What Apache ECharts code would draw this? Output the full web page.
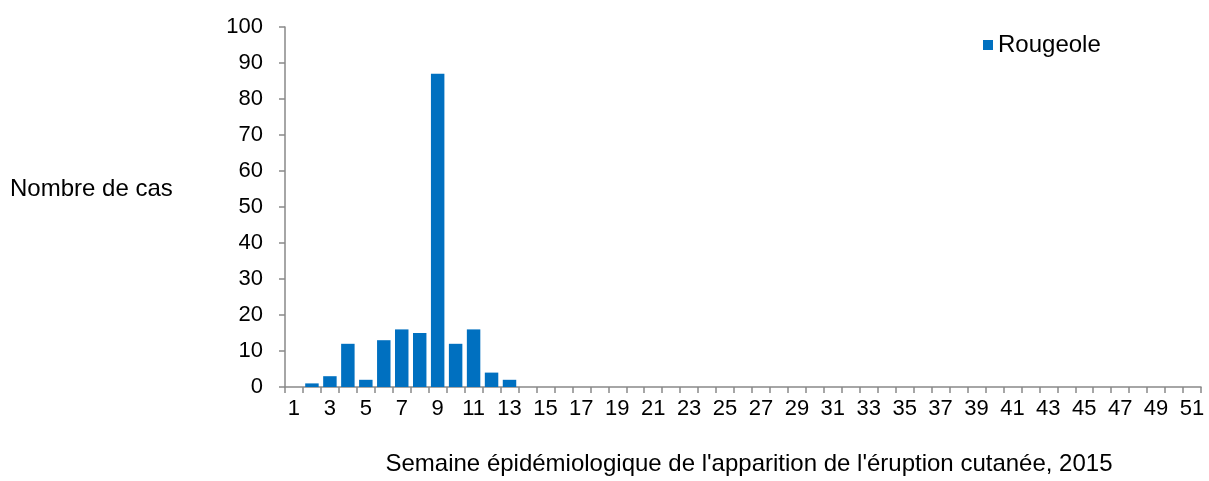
<!DOCTYPE html>
<html><head><meta charset="utf-8">
<script src="https://cdn.jsdelivr.net/npm/echarts@6/dist/echarts.min.js"></script>
<style>html,body{margin:0;padding:0;background:#fff}#c{width:1209px;height:481px}</style>
</head><body><div id="c"></div>
<script>
const weeks = [];
for (let i = 1; i <= 51; i++) weeks.push(String(i));
const rougeole = [null,1,3,12,2,13,16,15,87,12,16,4,2];
const yTicks = [0,10,20,30,40,50,60,70,80,90,100];
const seriesName = 'Rougeole';
const yTitle = 'Nombre de cas';
const xTitle = "Semaine épidémiologique de l'apparition de l'éruption cutanée, 2015";

const chart = echarts.init(document.getElementById('c'), null, {renderer:'canvas'});
const font = 'Liberation Sans, Arial, sans-serif';
chart.setOption({
  animation: false,
  textStyle: {fontFamily: font},
  grid: {left: 285, right: 8, top: 27, bottom: 92},
  legend: {data: [seriesName], left: 978, top: 28, icon: 'rect', itemWidth: 10, itemHeight: 10, itemGap: 5,
    textStyle: {fontSize: 24, color: '#000', fontFamily: font}},
  graphic: [{type: 'text', left: 10, top: 177, style: {text: yTitle, fontSize: 24, fill: '#000', fontFamily: font}}],
  xAxis: {type: 'category', data: weeks, boundaryGap: true,
    name: xTitle, nameLocation: 'middle', nameGap: 65,
    nameTextStyle: {fontSize: 24, color: '#000', fontFamily: font, padding: [0,0,0,12]},
    axisLine: {lineStyle: {color: '#898989', width: 1.5}},
    axisTick: {show: true, interval: 0, length: 6, lineStyle: {color: '#898989', width: 1.5}},
    axisLabel: {interval: 1, fontSize: 22, color: '#000', margin: 11, fontFamily: font}},
  yAxis: {type: 'value', min: 0, max: 100, interval: 10,
    axisLine: {show: true, lineStyle: {color: '#898989', width: 1.5}},
    axisTick: {show: true, length: 6, lineStyle: {color: '#898989', width: 1.5}},
    splitLine: {show: false},
    axisLabel: {fontSize: 22, color: '#000', margin: 22, fontFamily: font}},
  series: [{name: seriesName, type: 'bar', data: rougeole, barCategoryGap: '25%',
    itemStyle: {color: '#0070C0'}}]
});
</script></body></html>
